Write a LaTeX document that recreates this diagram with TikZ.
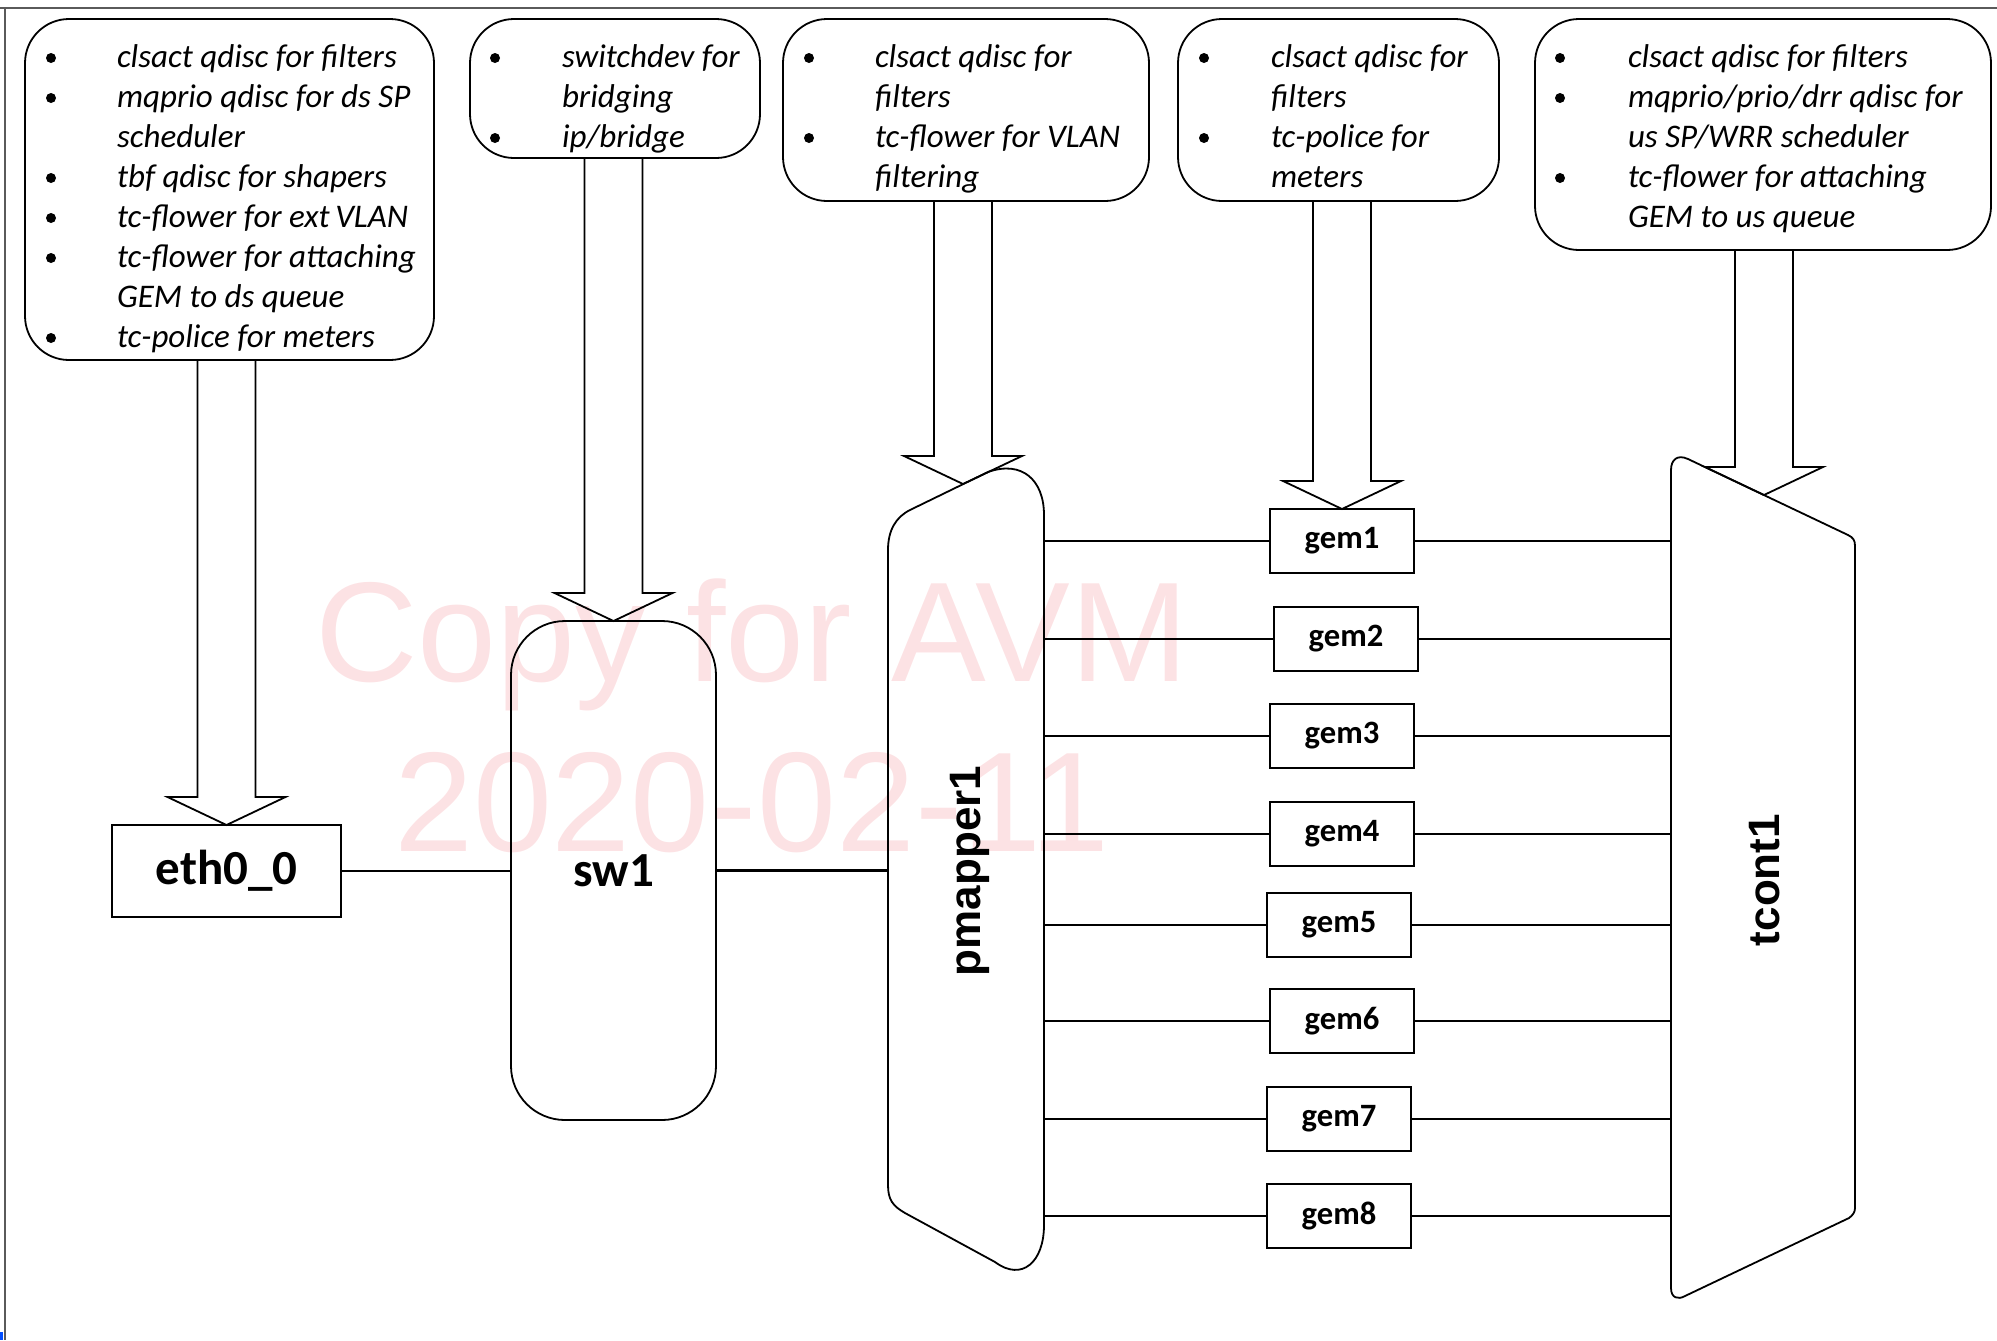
\documentclass[tikz,border=0pt]{standalone}
\usepackage{fontspec}
\setmainfont{Carlito}
\newfontfamily\arialf{Liberation Sans}
\usetikzlibrary{calc}
\definecolor{wmpink}{RGB}{252,226,228}
\definecolor{framegray}{RGB}{90,90,90}
\tikzset{
  outl/.style={draw=black, line width=0.9pt},
  infobox/.style={outl, rectangle, rounded corners=22pt, inner sep=0pt, outer sep=0pt},
  boxtext/.style={anchor=base west, inner sep=0pt, outer sep=0pt, font=\fontsize{16.5}{20}\selectfont\itshape},
  bdot/.style={circle, fill=black, inner sep=0pt, minimum size=5pt, outer sep=0pt},
  gembox/.style={outl, rectangle, inner sep=0pt, outer sep=0pt, minimum width=72pt, minimum height=32pt, font=\fontsize{16.3}{18}\selectfont\bfseries},
  conn/.style={line width=1.4pt},
  barrow/.style={outl, line join=miter},
  wmark/.style={text=wmpink, font=\arialf\fontsize{71}{80}\selectfont, inner sep=0pt, anchor=base},
  vlabel/.style={rotate=90, font=\arialf\bfseries\fontsize{22}{26}\selectfont, inner sep=0pt},
  region/.style={rectangle, draw=none, inner sep=0pt, outer sep=0pt},
}
\newcommand\blockarrow[3]{%
  \path (#2) ++(-29,-28) coordinate (#3sl) (#2) ++(29,-28) coordinate (#3sr)
        (#2) ++(-59,-28) coordinate (#3wl) (#2) ++(59,-28) coordinate (#3wr);
  \draw[barrow] (#3sl |- #1.south) -- (#3sl) -- (#3wl) -- (#2) -- (#3wr) -- (#3sr) -- (#3sr |- #1.south);
}
\begin{document}
\begin{tikzpicture}[x=0.5pt, y=-0.5pt]
\useasboundingbox (0,0) rectangle (1997,1340);
% watermark
\node[wmark] (wm1) at (752,681) {Copy for AVM};
\node[wmark] (wm2) at (752,851) {2020-02-11};
% frame
\draw[framegray, line width=0.8pt] (0,8) -- (1997,8);
\draw[framegray, line width=0.8pt] (5,8) -- (5,1340);
\fill[RGB/.code={}, blue!70!cyan] (0,1332) rectangle (3,1340);

% info boxes
\node[infobox, minimum width=204.5pt, minimum height=170.5pt] (b1) at (229.5,189.5) {};
\node[infobox, minimum width=145pt, minimum height=69.5pt] (b2) at (615,88.5) {};
\node[infobox, minimum width=183pt, minimum height=91pt] (b3) at (966,110) {};
\node[infobox, minimum width=160.5pt, minimum height=91pt] (b4) at (1338.5,110) {};
\node[infobox, minimum width=228pt, minimum height=115.5pt] (b5) at (1763,134.5) {};

% box 1 text
\node[bdot] (b1d1) at (51,58) {};
\node[boxtext] (b1t1) at (117,67) {clsact qdisc for filters};
\node[bdot] (b1d2) at (51,98) {};
\node[boxtext] (b1t2) at (117,107) {mqprio qdisc for ds SP};
\node[boxtext] (b1t3) at (117,147) {scheduler};
\node[bdot] (b1d4) at (51,178) {};
\node[boxtext] (b1t4) at (117,187) {tbf qdisc for shapers};
\node[bdot] (b1d5) at (51,218) {};
\node[boxtext] (b1t5) at (117,227) {tc-flower for ext\,VLAN};
\node[bdot] (b1d6) at (51,258) {};
\node[boxtext] (b1t6) at (117,267) {tc-flower for attaching};
\node[boxtext] (b1t7) at (117,307) {GEM to ds queue};
\node[bdot] (b1d8) at (51,338) {};
\node[boxtext] (b1t8) at (117,347) {tc-police for meters};
% box 2 text
\node[bdot] (b2d1) at (495,58) {};
\node[boxtext] (b2t1) at (562,67) {switchdev for};
\node[boxtext] (b2t2) at (562,107) {bridging};
\node[bdot] (b2d3) at (495,138) {};
\node[boxtext] (b2t3) at (562,147) {ip/bridge};
% box 3 text
\node[bdot] (b3d1) at (809,58) {};
\node[boxtext] (b3t1) at (875,67) {clsact qdisc for};
\node[boxtext] (b3t2) at (875,107) {filters};
\node[bdot] (b3d3) at (809,138) {};
\node[boxtext] (b3t3) at (875,147) {tc-flower for VLAN};
\node[boxtext] (b3t4) at (875,187) {filtering};
% box 4 text
\node[bdot] (b4d1) at (1204,58) {};
\node[boxtext] (b4t1) at (1271,67) {clsact qdisc for};
\node[boxtext] (b4t2) at (1271,107) {filters};
\node[bdot] (b4d3) at (1204,138) {};
\node[boxtext] (b4t3) at (1271,147) {tc-police for};
\node[boxtext] (b4t4) at (1271,187) {meters};
% box 5 text
\node[bdot] (b5d1) at (1560,58) {};
\node[boxtext] (b5t1) at (1628,67) {clsact qdisc for filters};
\node[bdot] (b5d2) at (1560,98) {};
\node[boxtext] (b5t2) at (1628,107) {mqprio/prio/drr qdisc for};
\node[boxtext] (b5t3) at (1628,147) {us SP/WRR scheduler};
\node[bdot] (b5d4) at (1560,178) {};
\node[boxtext] (b5t4) at (1628,187) {tc-flower for attaching};
\node[boxtext] (b5t5) at (1628,227) {GEM to us queue};

% main nodes
\node[outl, rectangle, inner sep=0pt, outer sep=0pt, minimum width=114.5pt, minimum height=46pt,
      font=\fontsize{24.5}{28}\selectfont\bfseries] (eth) at (226.5,871) {eth0\_0};
\node[outl, rectangle, rounded corners=27pt, inner sep=0pt, outer sep=0pt, minimum width=102.5pt, minimum height=249.5pt,
      font=\fontsize{24.5}{28}\selectfont\bfseries] (sw) at (613.5,870.5) {sw1};
\node[region, minimum width=78pt, minimum height=350pt] (pm) at (966,871) {};
\node[region, minimum width=92pt, minimum height=350pt] (tc) at (1763,876) {};

% pmapper outline
\draw[outl] (888,1185) -- (888,550)
  .. controls (888,530) and (896,517) .. (910,510)
  -- (988,472)
  .. controls (1022,460) and (1044,480) .. (1044,515)
  -- (1044,1225)
  .. controls (1044,1262) and (1022,1282) .. (995,1262)
  -- (905,1213)
  .. controls (893,1206) and (888,1200) .. (888,1185) -- cycle;
% tcont outline
\draw[outl] (1671,1288) -- (1671,470)
  .. controls (1671,460) and (1677,454) .. (1688,459)
  -- (1848,535)
  .. controls (1853,537.5) and (1855,540) .. (1855,546)
  -- (1855,1208)
  .. controls (1855,1212) and (1853,1215) .. (1849,1218)
  -- (1685,1296)
  .. controls (1678,1300) and (1671,1298) .. (1671,1288) -- cycle;
\node[vlabel] (pmlabel) at (970,871) {pmapper1};
\node[vlabel] (tclabel) at (1765,880) {tcont1};

% gem nodes
\node[gembox] (g1) at (1342,541) {gem1};
\node[gembox] (g2) at (1346,639) {gem2};
\node[gembox] (g3) at (1342,736) {gem3};
\node[gembox] (g4) at (1342,834) {gem4};
\node[gembox] (g5) at (1339,925) {gem5};
\node[gembox] (g6) at (1342,1021) {gem6};
\node[gembox] (g7) at (1339,1119) {gem7};
\node[gembox] (g8) at (1339,1216) {gem8};
\foreach \g in {g1,g2,g3,g4,g5,g6,g7,g8}{
  \draw[conn] (\g.west -| pm.east) -- (\g.west);
  \draw[conn] (\g.east) -- (\g.east -| tc.west);
}
\draw[conn] (eth.east) -- (eth.east -| sw.west);
\draw[conn] (sw.east) -- (sw.east -| pm.west);

% block arrows
\coordinate (t3) at (963,484);
\coordinate (t5) at (1764,495);
\blockarrow{b1}{eth.north}{a1}
\blockarrow{b2}{sw.north}{a2}
\blockarrow{b3}{t3}{a3}
\blockarrow{b4}{g1.north}{a4}
\blockarrow{b5}{t5}{a5}
\end{tikzpicture}
\end{document}
